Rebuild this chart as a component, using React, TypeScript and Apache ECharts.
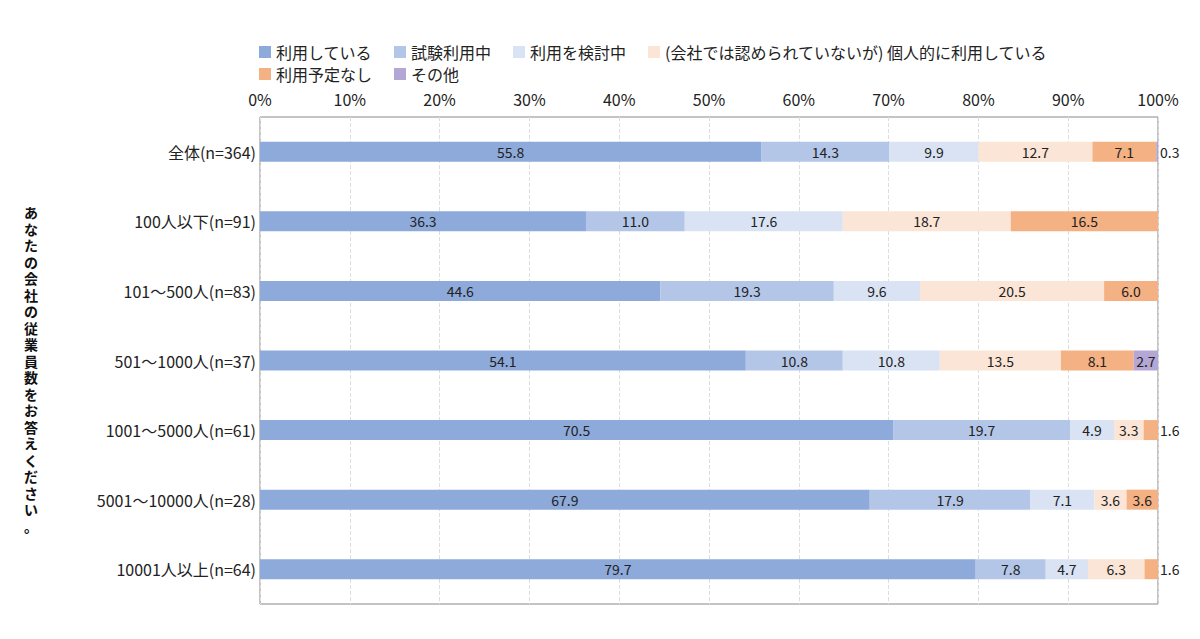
import React, { useEffect, useRef } from 'react';
import * as echarts from 'echarts';

const categories = ['全体(n=364)', '100人以下(n=91)', '101～500人(n=83)', '501～1000人(n=37)', '1001～5000人(n=61)', '5001～10000人(n=28)', '10001人以上(n=64)'];
const seriesNames = ['利用している', '試験利用中', '利用を検討中', '(会社では認められていないが) 個人的に利用している', '利用予定なし', 'その他'];
const colors = ['#8eaadb', '#b4c6e7', '#dae3f3', '#fbe5d6', '#f4b183', '#b4a7d6'];
const values = [
  [55.8, 36.3, 44.6, 54.1, 70.5, 67.9, 79.7],
  [14.3, 11.0, 19.3, 10.8, 19.7, 17.9, 7.8],
  [9.9, 17.6, 9.6, 10.8, 4.9, 7.1, 4.7],
  [12.7, 18.7, 20.5, 13.5, 3.3, 3.6, 6.3],
  [7.1, 16.5, 6.0, 8.1, 1.6, 3.6, 1.6],
  [0.3, 0, 0, 2.7, 0, 0, 0],
];
const xTicks = [0, 10, 20, 30, 40, 50, 60, 70, 80, 90, 100];
const axisTitle = 'あなたの会社の従業員数をお答えください。';

const App = () => {
  const chartRef = useRef(null);

  useEffect(() => {
    if (!chartRef.current) return;
    const chart = echarts.init(chartRef.current, null, { renderer: 'svg' });
    const font = '"Noto Sans CJK JP", sans-serif';

    const series = seriesNames.map((name, si) => ({
      name,
      type: 'bar',
      stack: 'total',
      barWidth: 20,
      itemStyle: { color: colors[si] },
      data: values[si].map((v) => ({
        value: v,
        label: {
          show: v > 0,
          position: v < 2 ? 'right' : 'inside',
          distance: 2,
          formatter: () => v.toFixed(1),
          color: '#222',
          fontSize: 14,
          fontFamily: font,
        },
      })),
    }));

    const legendText = { fontSize: 16, color: '#222', fontFamily: font };

    chart.setOption({
      animation: false,
      textStyle: { fontFamily: font },
      legend: [
        {
          data: seriesNames.slice(0, 4),
          left: 246, top: 31, itemWidth: 12, itemHeight: 12, itemGap: 22, icon: 'rect',
          textStyle: legendText,
        },
        {
          data: seriesNames.slice(4),
          left: 246, top: 53, itemWidth: 12, itemHeight: 12, itemGap: 22, icon: 'rect',
          textStyle: legendText,
        },
      ],
      grid: { left: 252, right: 34, top: 109, bottom: 27, show: true, borderColor: '#888', borderWidth: 1 },
      xAxis: {
        type: 'value', position: 'top', min: 0, max: 100, interval: 10,
        axisLine: { show: false }, axisTick: { show: false },
        axisLabel: { formatter: (v) => (xTicks.includes(v) ? v + '%' : ''), fontSize: 16, color: '#222', margin: 10 },
        splitLine: { show: true, lineStyle: { type: 'dashed', color: '#ddd' } },
      },
      yAxis: {
        type: 'category', data: categories, inverse: true,
        axisLine: { show: false }, axisTick: { show: false },
        axisLabel: { fontSize: 16, color: '#222', margin: 4 },
      },
      graphic: [
        {
          type: 'text', left: 16, top: 196,
          style: {
            text: axisTitle.split('').join('\n'), fontSize: 14, fontWeight: 'bold',
            lineHeight: 16.5, fill: '#111', fontFamily: font, align: 'center',
          },
        },
      ],
      series,
    });

    return () => chart.dispose();
  }, []);

  return <div ref={chartRef} style={{ width: 1184, height: 623 }} />;
};

export default App;
